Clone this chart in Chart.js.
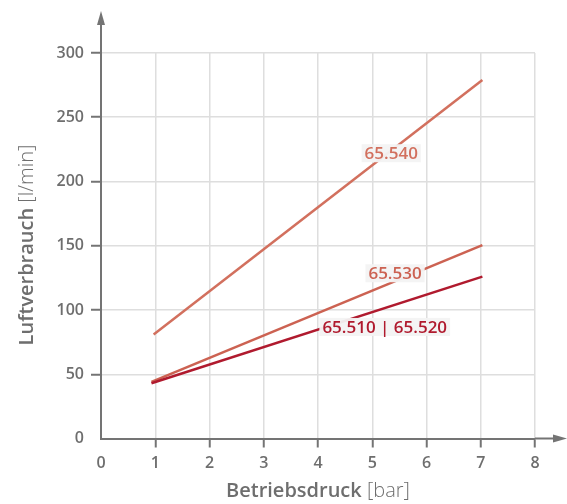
<!DOCTYPE html>
<html lang="de">
<head>
    <meta charset="UTF-8">
    <title>Luftverbrauch</title>
    <script src="https://cdn.jsdelivr.net/npm/chart.js"></script>
    <style>
        html, body { margin: 0; padding: 0; background: #fff; }
        #wrap { width: 567px; height: 504px; }
    </style>
</head>
<body>
    <div id="wrap"><canvas id="airChart" width="567" height="504"></canvas></div>

    <script>
        // series names and colours
        const seriesNames = ['65.540', '65.530', '65.510 | 65.520'];
        const seriesColors = ['#d2705e', '#cc6252', '#b01a2e'];

        // Betriebsdruck [bar] -> Luftverbrauch [l/min]
        const pressure540 = [0.97, 7.03];
        const air540 = [81, 279];
        const pressure530 = [0.93, 7.03];
        const air530 = [44, 150.5];
        const pressure510 = [0.93, 7.03];
        const air510 = [43, 126];

        // where the series names sit (data units)
        const labelX = [5.35, 5.42, 5.23];
        const labelY = [222, 128.6, 86.8];

        const xTicks = [0, 1, 2, 3, 4, 5, 6, 7, 8];
        const yTicks = [0, 50, 100, 150, 200, 250, 300];

        const gray = '#747474';
        const fontFam = '"Open Sans", "Noto Sans", sans-serif';

        function toPoints(xs, ys) {
            return xs.map((x, i) => ({ x: x, y: ys[i] }));
        }

        // arrows, axis titles and the series labels
        const decorPlugin = {
            id: 'decor',
            afterDraw(chart) {
                const ctx = chart.ctx;
                const area = chart.chartArea;
                const xs = chart.scales.x, ys = chart.scales.y;
                ctx.save();

                // extend axes with arrows
                ctx.strokeStyle = gray;
                ctx.fillStyle = gray;
                ctx.lineWidth = 2;
                ctx.beginPath();
                ctx.moveTo(area.left, area.top);
                ctx.lineTo(area.left, 22);
                ctx.moveTo(area.right, area.bottom);
                ctx.lineTo(556, area.bottom);
                ctx.stroke();
                ctx.beginPath();
                ctx.moveTo(area.left, 11);
                ctx.lineTo(area.left - 4, 25);
                ctx.lineTo(area.left + 4, 25);
                ctx.closePath();
                ctx.fill();
                ctx.beginPath();
                ctx.moveTo(567, area.bottom);
                ctx.lineTo(553, area.bottom - 4);
                ctx.lineTo(553, area.bottom + 4);
                ctx.closePath();
                ctx.fill();

                // axis titles, bold name + light unit
                function mixedTitle(bold, light, cx, cy, rot) {
                    ctx.save();
                    ctx.translate(cx, cy);
                    ctx.rotate(rot);
                    ctx.font = '600 20px ' + fontFam;
                    const w1 = ctx.measureText(bold + ' ').width;
                    ctx.font = '300 20px ' + fontFam;
                    const w2 = ctx.measureText(light).width;
                    const start = -(w1 + w2) / 2;
                    ctx.textBaseline = 'middle';
                    ctx.textAlign = 'left';
                    ctx.fillStyle = '#6e6e6e';
                    ctx.font = '600 20px ' + fontFam;
                    ctx.fillText(bold, start, 0);
                    ctx.font = '300 20px ' + fontFam;
                    ctx.fillText(light, start + w1, 0);
                    ctx.restore();
                }
                mixedTitle('Luftverbrauch', '[l/min]', 27, 245, -Math.PI / 2);
                mixedTitle('Betriebsdruck', '[bar]', 318, 491, 0);

                // series labels
                ctx.font = '600 17px ' + fontFam;
                ctx.textAlign = 'center';
                ctx.textBaseline = 'middle';
                seriesNames.forEach((name, i) => {
                    const px = xs.getPixelForValue(labelX[i]);
                    const py = ys.getPixelForValue(labelY[i]);
                    const w = ctx.measureText(name).width + 6;
                    ctx.fillStyle = 'rgba(243,243,243,0.95)';
                    ctx.fillRect(px - w / 2, py - 9, w, 18);
                    ctx.fillStyle = seriesColors[i];
                    ctx.fillText(name, px, py + 1);
                });
                ctx.restore();
            }
        };

        const ctx = document.getElementById('airChart').getContext('2d');
        new Chart(ctx, {
            type: 'line',
            data: {
                datasets: [
                    { label: seriesNames[2], data: toPoints(pressure510, air510), borderColor: seriesColors[2], order: 0 },
                    { label: seriesNames[1], data: toPoints(pressure530, air530), borderColor: seriesColors[1], order: 1 },
                    { label: seriesNames[0], data: toPoints(pressure540, air540), borderColor: seriesColors[0], order: 2 }
                ]
            },
            options: {
                responsive: false,
                animation: false,
                devicePixelRatio: 1,
                layout: { padding: { left: 0, right: 32, top: 53, bottom: 0 } },
                elements: {
                    line: { borderWidth: 2.5, tension: 0 },
                    point: { radius: 0 }
                },
                plugins: {
                    legend: { display: false },
                    tooltip: { enabled: false }
                },
                scales: {
                    x: {
                        type: 'linear',
                        min: 0,
                        max: 8,
                        afterFit(scale) { scale.height = 65.5; },
                        afterBuildTicks(scale) { scale.ticks = xTicks.map(v => ({ value: v })); },
                        grid: {
                            color: c => c.tick && c.tick.value === 0 ? 'transparent' : '#dedede',
                            tickColor: c => c.tick && c.tick.value === 0 ? 'transparent' : gray,
                            tickLength: 9,
                            lineWidth: 1.5,
                            tickWidth: 2
                        },
                        border: { color: gray, width: 2 },
                        ticks: {
                            color: '#6e6e6e',
                            padding: 6,
                            font: { family: fontFam, size: 16, weight: '600' }
                        }
                    },
                    y: {
                        min: 0,
                        max: 300,
                        afterFit(scale) { scale.width = 101; },
                        afterBuildTicks(scale) { scale.ticks = yTicks.map(v => ({ value: v })); },
                        grid: {
                            color: c => c.tick && c.tick.value === 0 ? 'transparent' : '#dedede',
                            tickColor: c => c.tick && c.tick.value === 0 ? 'transparent' : gray,
                            tickLength: 10,
                            lineWidth: 1.5,
                            tickWidth: 2
                        },
                        border: { color: gray, width: 2 },
                        ticks: {
                            color: '#6e6e6e',
                            padding: 7,
                            font: { family: fontFam, size: 16, weight: '600' }
                        }
                    }
                }
            },
            plugins: [decorPlugin]
        });
    </script>
</body>
</html>
